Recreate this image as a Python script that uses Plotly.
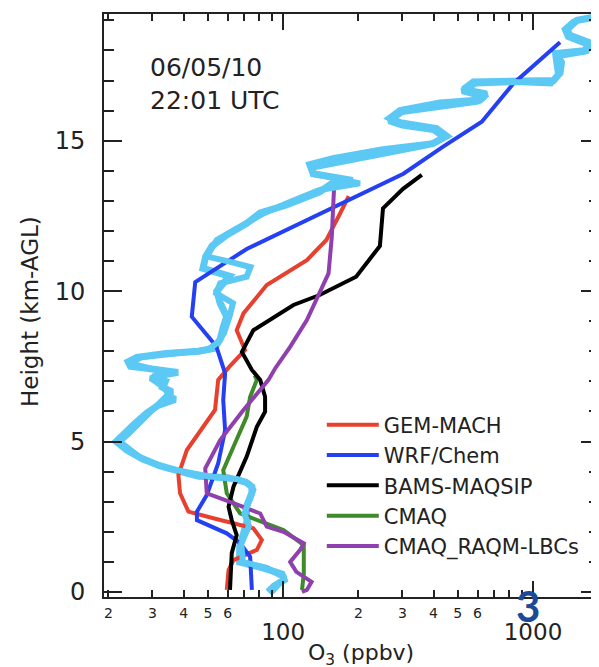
import math
import plotly.graph_objects as go

# ---------------- data ----------------
SONDE_A_Z = [0.0, 0.2, 0.4, 0.6, 0.8, 1.0, 1.5, 1.9, 2.2, 2.4, 2.8, 3.3, 3.5, 3.65, 3.8, 3.85,
             4.0, 4.2, 4.45, 4.72, 5.0, 5.3, 5.6, 5.95, 6.2, 6.4, 6.55, 6.65, 6.8, 7.0, 7.15, 7.3,
             7.5, 7.65, 7.8, 7.93, 8.0, 8.1, 8.4, 8.8, 9.15, 9.6, 10.0, 10.25, 10.5, 10.76,
             11.15, 11.5, 11.87, 12.25, 12.6, 12.86, 13.05, 13.3, 13.6, 13.68, 13.9, 14.2, 14.4,
             14.7, 14.9, 15.15, 15.4, 15.6, 15.75, 16.0, 16.25, 16.35, 16.55, 16.7, 16.95, 17.0,
             17.0, 17.25, 17.6, 17.9, 18.0, 18.25, 18.5, 18.7, 19.0, 19.1]
SONDE_A_O3 = [87, 92, 101, 99, 83, 67, 67, 69, 71, 72, 71, 75, 75, 71, 60, 46,
              39, 32, 27, 23.7, 21.5, 23.7, 25.5, 28.5, 31.6, 37, 34, 36, 33, 33.8, 30, 38,
              24.5, 24, 26, 34, 46, 53, 56, 57.6, 59.5, 56, 54.3, 57.6, 61, 47.8,
              49, 52, 59.5, 71.5, 81, 103, 117, 140, 158, 190, 132, 128, 158,
              251, 398, 451, 411, 294, 268, 294, 424, 614, 652, 526, 577, 860,
              1208, 1283, 1300, 1239, 1637, 1689, 1403, 1369, 1499, 1760]

SONDE_B_Z = [0.0, 0.3, 0.5, 0.8, 1.0, 1.6, 2.2, 2.6, 3.0, 3.4, 3.6, 3.75, 3.85, 4.1, 4.4,
             4.7, 5.0, 5.25, 5.6, 6.0, 6.3, 6.6, 6.9, 7.1, 7.3, 7.45, 7.6, 7.8, 7.95, 8.05,
             8.3, 8.6, 9.15, 9.6, 9.93, 10.26, 10.48, 10.8, 10.98, 11.15, 11.7, 12.14, 12.58,
             12.97, 13.36, 13.58, 13.9, 14.1, 14.3, 14.6, 14.85, 15.1, 15.35, 15.5, 15.65,
             15.95, 16.15, 16.3, 16.45, 16.65, 16.9, 16.95, 16.9, 17.2, 17.8, 17.95, 18.2,
             18.45, 18.7, 18.95, 19.1]
SONDE_B_O3 = [90, 97, 100, 86, 69, 68, 73, 70, 73, 76, 73, 66, 50, 35, 27.5,
              24.5, 22.2, 24, 26.5, 30, 32.5, 35, 32, 29.5, 34, 28, 24.5, 27, 38, 50,
              55, 58, 61, 63, 54, 56, 71.5, 74, 61, 49.5, 54.3, 67.3, 83.4,
              107, 140, 203, 132, 130, 170, 260, 380, 440, 400, 300, 265,
              300, 430, 600, 640, 520, 590, 850, 1180, 1260, 1230, 1600, 1650,
              1380, 1340, 1450, 1700]

GEM_Z = [0.07, 0.73, 1.06, 1.4, 1.73, 2.12, 2.45, 2.67, 3.28, 3.89, 4.72, 6.05, 7.05, 7.49,
         8.04, 8.7, 9.26, 10.2, 11.03, 11.7, 12.58, 13.16]
GEM_O3 = [59.5, 60.5, 63.3, 78.5, 82.2, 76, 52.6, 41.8, 38.7, 38.1, 41.2, 53.4, 55, 61,
          70.4, 65.2, 69.4, 86, 124.5, 149, 169, 183]

WRF_Z = [0.07, 1.17, 1.62, 1.95, 2.39, 2.67, 3.22, 4.28, 5.38, 6.38, 7.27, 8.17, 9.15,
         10.3, 11.4, 13.4, 13.9, 14.8, 15.63, 16.9, 18.27]
WRF_O3 = [75, 73.8, 67.3, 59.5, 45.2, 45.2, 49.5, 55, 58.6, 57.6, 58.6, 54, 43.1,
          44.5, 71.5, 229, 303, 437, 624, 835, 1283]

BAMS_Z = [0.07, 1.29, 1.89, 2.39, 2.83, 3.5, 4.5, 5.49, 5.99, 6.49, 7.05, 7.38, 7.98, 8.7,
          9.54, 9.87, 10.48, 11.5, 12.75, 13.4, 13.86]
BAMS_O3 = [61.3, 62.3, 65.2, 62.3, 60.5, 63.3, 71.5, 78.5, 84.7, 84.7, 81, 75, 68.4, 76,
           110, 140, 196, 244, 251, 302, 359]

CMAQ_Z = [0.07, 0.6, 1.13, 1.56, 2.06, 2.28, 2.61, 3.28, 4.05, 4.83, 5.83, 6.49, 7.05, 7.2]
CMAQ_O3 = [119, 121, 121, 121, 100.3, 86, 67.3, 59.5, 57.6, 63.3, 71.5, 73.8, 78.5, 77]

RAQM_Z = [0.0, 0.07, 0.34, 0.67, 1.0, 1.4, 1.62, 2.0, 2.17, 2.61, 2.95, 3.28, 4.11, 5.05,
          6.05, 7.05, 7.43, 8.15, 9.04, 9.93, 10.59, 11.8, 13.47]
RAQM_O3 = [119, 124.5, 130, 113, 106.7, 117, 121, 100.3, 86, 81, 63.3, 49.5, 48.8, 56,
           69.4, 87.4, 92.9, 106.7, 124.5, 140, 152, 156.6, 160]

MODEL_NAMES = ["GEM-MACH", "WRF/Chem", "BAMS-MAQSIP", "CMAQ", "CMAQ_RAQM-LBCs"]
MODEL_COLORS = ["#e8402e", "#2440f2", "#000000", "#3f8a2a", "#8f3fae"]

X_MAJOR = [100, 1000]
X_MAJOR_TEXT = ["100", "1000"]
X_SMALL = [20, 30, 40, 50, 60, 200, 300, 400, 500, 600]
X_SMALL_TEXT = ["2", "3", "4", "5", "6", "2", "3", "4", "5", "6"]
X_MINOR = [20, 30, 40, 50, 60, 70, 80, 90, 200, 300, 400, 500, 600, 700, 800, 900]
Y_MAJOR = [0, 5, 10, 15]

FONT = "DejaVu Sans"
SONDE_COLOR = "#5cc9f5"

fig = go.Figure()

# ozonesonde profiles (thick light-blue band)
fig.add_trace(go.Scatter(x=SONDE_A_O3, y=SONDE_A_Z, mode="lines",
                         line=dict(color=SONDE_COLOR, width=7), showlegend=False))
fig.add_trace(go.Scatter(x=SONDE_B_O3, y=SONDE_B_Z, mode="lines", xaxis="x2",
                         line=dict(color=SONDE_COLOR, width=6), showlegend=False))

model_data = [(GEM_O3, GEM_Z), (WRF_O3, WRF_Z), (BAMS_O3, BAMS_Z), (CMAQ_O3, CMAQ_Z),
              (RAQM_O3, RAQM_Z)]
draw_order = [3, 0, 1, 2, 4]
for i in draw_order:
    xo, zo = model_data[i]
    fig.add_trace(go.Scatter(x=xo, y=zo, mode="lines", name=MODEL_NAMES[i],
                             line=dict(color=MODEL_COLORS[i], width=4),
                             legendrank=i + 1))

xr = [math.log10(19.2), math.log10(1837)]
axis_color = "#222222"

# the page body adds an 8 px offset, so the figure is 8 px smaller than the window
fig.update_layout(
    width=591, height=659,
    margin=dict(l=96, r=0, t=6, b=70, autoexpand=False),
    paper_bgcolor="white", plot_bgcolor="white",
    font=dict(family=FONT, color=axis_color),
    xaxis=dict(type="log", range=xr, tickvals=X_MAJOR, ticktext=X_MAJOR_TEXT,
               automargin=False,
               ticks="inside", ticklen=16, tickwidth=1.5, tickcolor=axis_color,
               tickfont=dict(size=23, family=FONT), ticklabelstandoff=13,
               showline=True, linewidth=2, linecolor=axis_color, mirror="ticks",
               showgrid=False, zeroline=False,
               minor=dict(tickvals=X_MINOR, ticks="inside", ticklen=7, tickwidth=1.5,
                          tickcolor=axis_color, showgrid=False)),
    xaxis2=dict(type="log", range=xr, overlaying="x", side="bottom", anchor="y",
                automargin=False,
                tickvals=X_SMALL, ticktext=X_SMALL_TEXT, ticks="",
                tickfont=dict(size=14, family=FONT), ticklabelstandoff=6,
                showline=False, showgrid=False, zeroline=False),
    yaxis=dict(range=[-0.166, 19.21], tickvals=Y_MAJOR, ticks="inside", ticklen=18,
               automargin=False,
               tickwidth=1.5, tickcolor=axis_color,
               tickfont=dict(size=24, family=FONT), ticklabelstandoff=12,
               showline=True, linewidth=2, linecolor=axis_color, mirror="ticks",
               showgrid=False, zeroline=False,
               minor=dict(dtick=1, ticks="inside", ticklen=10, tickwidth=1.5,
                          tickcolor=axis_color, showgrid=False)),
    legend=dict(x=0.44, y=0.330, xanchor="left", yanchor="top",
                bgcolor="rgba(0,0,0,0)", borderwidth=0, itemwidth=52,
                font=dict(size=21, family=FONT, color=axis_color),
                traceorder="normal"),
    showlegend=True,
)

fig.add_annotation(text="06/05/10<br>22:01 UTC", xref="paper", yref="paper",
                   x=0.0889, y=0.937, xanchor="left", yanchor="top", align="left",
                   showarrow=False, font=dict(size=25, family=FONT, color=axis_color))
fig.add_annotation(text="Height (km-AGL)", xref="paper", yref="paper",
                   x=-0.1495, y=0.4906, textangle=-90, xanchor="center", yanchor="middle",
                   showarrow=False, font=dict(size=23, family=FONT, color=axis_color))
fig.add_annotation(text="O<sub>3</sub> (ppbv)", xref="paper", yref="paper",
                   x=0.519, y=-0.098, xanchor="center", yanchor="middle",
                   showarrow=False, font=dict(size=22, family=FONT, color=axis_color))
fig.add_annotation(text="3", xref="paper", yref="paper",
                   x=0.8566, y=-0.0154, xanchor="center", yanchor="middle",
                   showarrow=False, font=dict(size=42, family="Lato", color="#1b4a96",
                                              weight="bold"))

fig.write_html("out.html")
